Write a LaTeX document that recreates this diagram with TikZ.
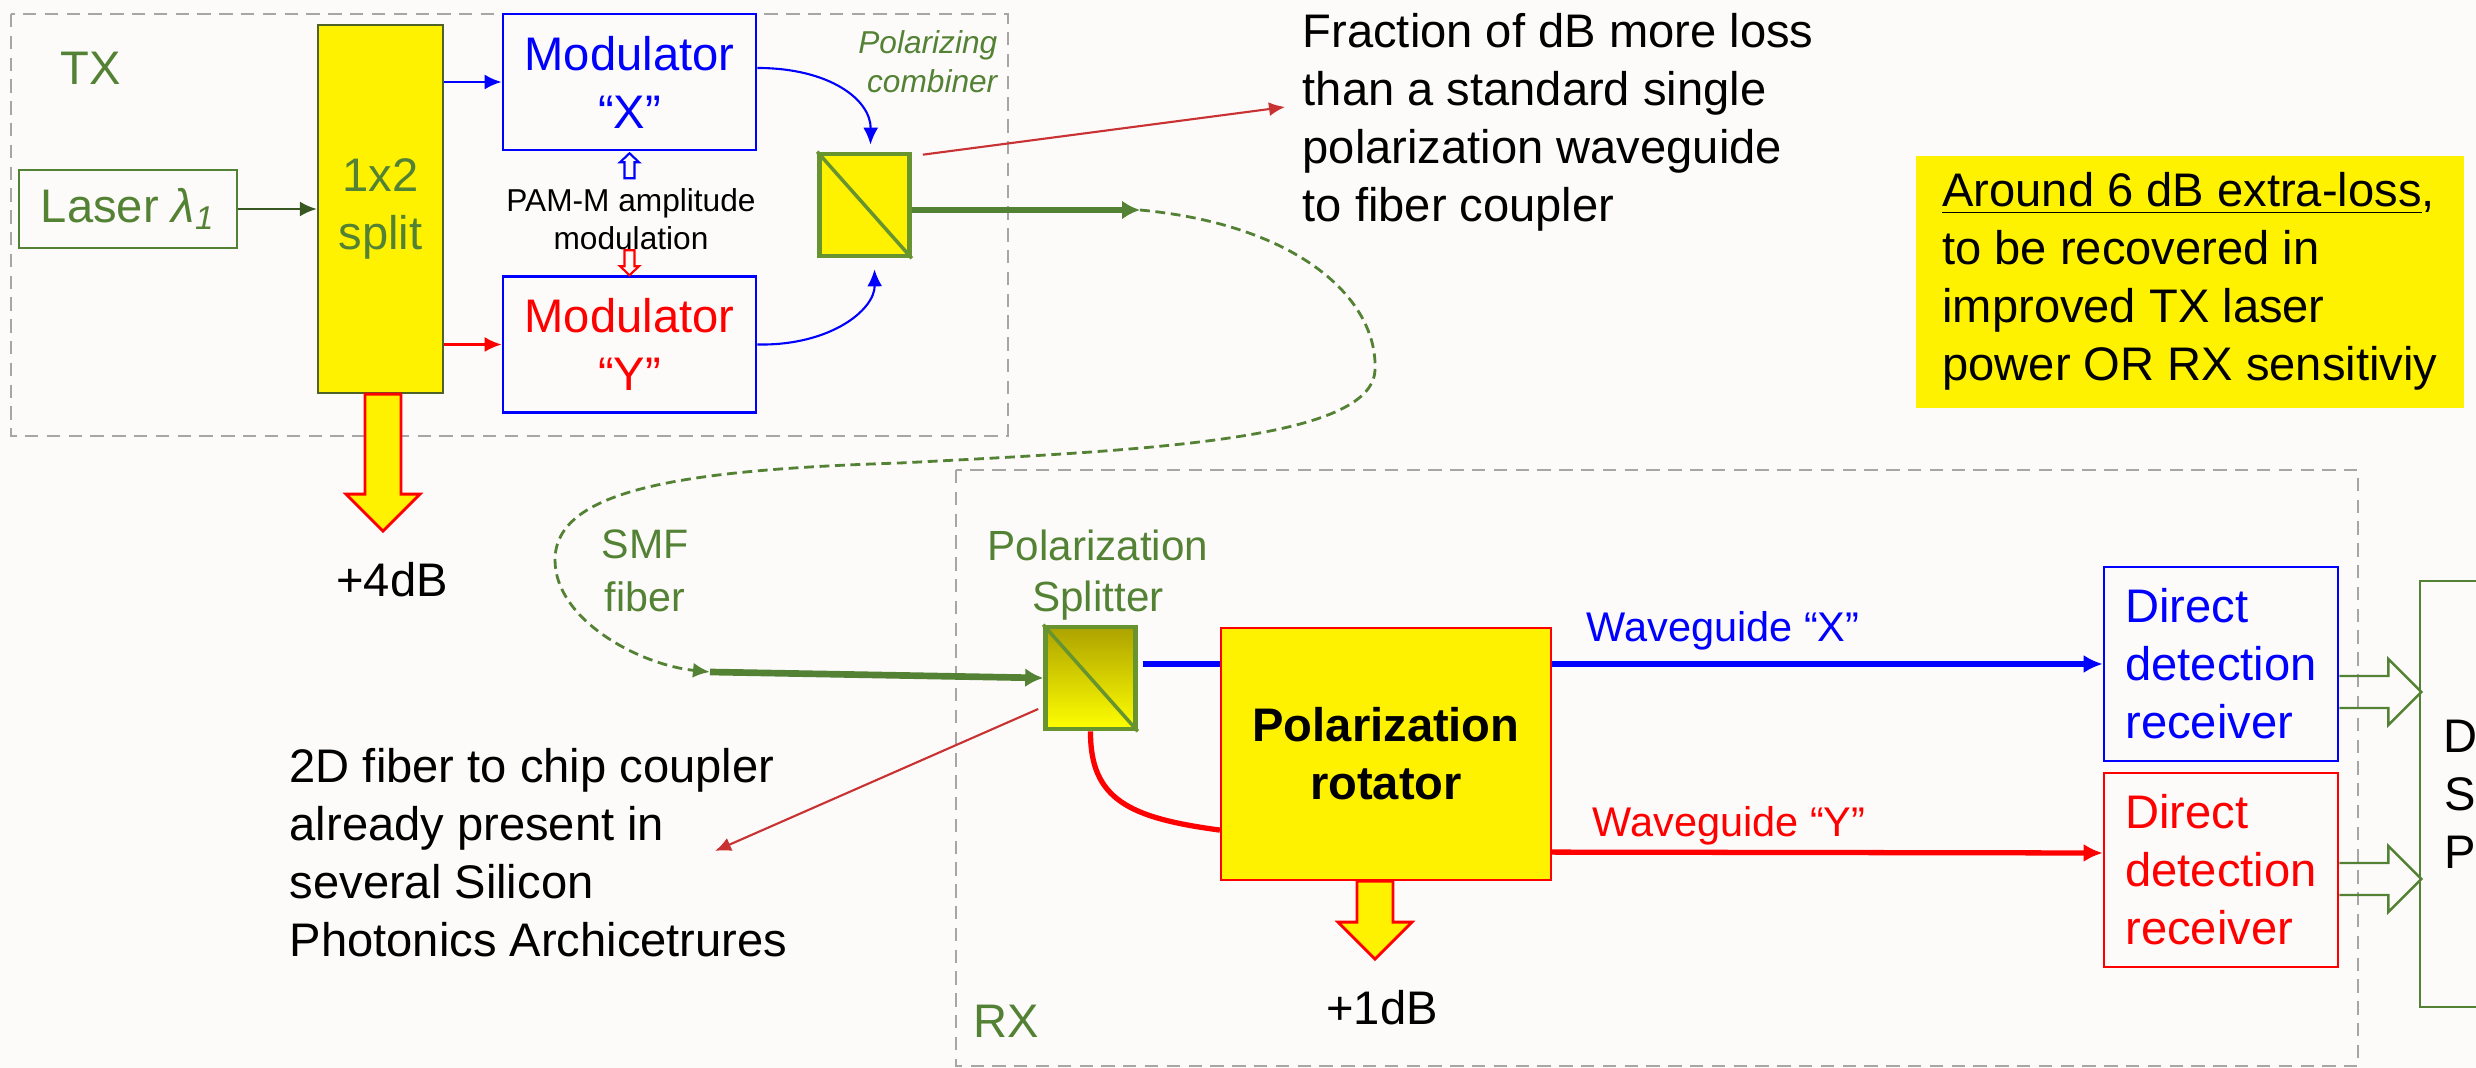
\documentclass[tikz,border=0pt]{standalone}
\usepackage{fontspec}
\setmainfont{Liberation Sans}
\usepackage{tikz}
\usetikzlibrary{arrows.meta}
\definecolor{bgpink}{RGB}{253,251,250}
\definecolor{leafgreen}{RGB}{84,130,53}
\definecolor{darkleaf}{RGB}{56,87,35}
\definecolor{pbsgreen}{RGB}{104,148,48}
\definecolor{splitedge}{RGB}{79,98,40}
\definecolor{notered}{RGB}{200,50,50}
\definecolor{boxgray}{RGB}{166,166,166}
\definecolor{olivetop}{RGB}{172,162,0}

% yellow loss arrow, red outline: #1 start of stem (left side), #2 stem length
\newcommand{\lossarrow}[2]{%
  \draw[red,line width=0.8pt,fill=yellow] (#1) -- ++(0,#2) -- ++(-19,0) -- ++(37,37) -- ++(37,-37) -- ++(-19,0) -- ++(0,-#2) -- cycle;}
% small hollow arrow next to the PAM label: #3 = 1 down, -1 up
\newcommand{\pamarrow}[3]{%
  \draw[#2,line width=0.6pt,fill=bgpink] (#1) -- ++(0,{#3*16}) -- ++(-4.5,0) -- ++(9.5,{#3*9}) -- ++(9.5,{-(#3)*9}) -- ++(-4.5,0) -- ++(0,{-(#3)*16}) -- cycle;}
% hollow arrow from a receiver into the DSP
\newcommand{\dsparrow}[1]{%
  \draw[leafgreen,line width=0.7pt] (#1) -- ++(49,0) -- ++(0,-17) -- ++(33,33) -- ++(-33,33) -- ++(0,-17) -- ++(-49,0);}

\begin{document}
\begin{tikzpicture}[x=0.01cm,y=-0.01cm,>={Latex[length=0.17cm,width=0.15cm]},
  font=\fontsize{13.4}{16.5}\selectfont,
  every node/.style={inner sep=0pt},
  grpbox/.style={draw=boxgray,line width=0.6pt,dash pattern=on 3.8pt off 2.4pt},
  grplbl/.style={text=leafgreen},
  modbox/.style={draw=blue,line width=0.7pt,minimum width=2.53cm,minimum height=1.36cm,align=center},
  splitbox/.style={draw=splitedge,line width=0.6pt,fill=yellow,text=leafgreen,minimum width=1.25cm,minimum height=3.68cm,align=center},
  pbsbox/.style={draw=pbsgreen,line width=1.3pt,minimum width=0.9cm,minimum height=1.02cm},
  rotbox/.style={draw=red,line width=0.6pt,fill=yellow,minimum width=3.3cm,minimum height=2.52cm,align=center,font=\fontsize{13.4}{16.5}\selectfont\bfseries},
  ddrbox/.style={line width=0.7pt,minimum width=2.34cm,minimum height=1.94cm,align=left},
  fibre/.style={leafgreen,line width=1.9pt,-{Latex[length=0.18cm,width=0.19cm]}},
  wguide/.style={line width=1.5pt,-{Latex[length=0.19cm,width=0.18cm]}},
  thinarr/.style={line width=0.75pt,->},
  notearr/.style={notered,line width=0.6pt,-{Latex[length=0.16cm,width=0.14cm]}}]
\fill[bgpink] (0,0) rectangle (2476,1068);
\useasboundingbox (0,0) rectangle (2476,1068);

% TX side
\draw[grpbox] (11,14) rectangle (1008,436);
\node[grplbl] (txlbl) at (91,68) {TX};
\node[draw=leafgreen,line width=0.6pt,text=leafgreen,minimum width=2.18cm,minimum height=0.78cm] (laser) at (128,209) {Laser \textit{λ\textsubscript{1}}};
\node[splitbox] (split) at (380.5,209) {1x2\\split};
\node[modbox,text=blue] (modx) at (629.5,82) {Modulator\\“X”};
\node[modbox,text=red] (mody) at (629.5,344.5) {Modulator\\“Y”};
\node[font=\fontsize{9}{10.8}\selectfont,align=center] (pam) at (631,219) {PAM-M amplitude\\modulation};
\node[pbsbox,fill=yellow] (comb) at (864.5,205) {};
\draw[pbsgreen,line width=1pt] (comb.north west) -- (comb.south east);
\node[text=leafgreen,font=\fontsize{9}{11}\selectfont\itshape,align=right,anchor=east] (combl) at (998,62) {Polarizing\\combiner};

\draw[darkleaf,thinarr] (laser) -- (split);
\draw[blue,thinarr] (split.east |- modx) -- (modx);
\draw[red,thinarr] (split.east |- mody) -- (mody);
\pamarrow{[xshift=-0.05cm,yshift=-0.27cm]modx.south}{blue}{-1}
\pamarrow{[xshift=-0.05cm,yshift=0.25cm]mody.north}{red}{1}
\draw[blue,line width=0.6pt,->] ([yshift=0.14cm]modx.east) .. controls (830,68) and (871,100) .. ([xshift=0.06cm,yshift=0.07cm]comb.north);
\draw[blue,line width=0.6pt,->] (mody.east) .. controls (830,346) and (875,310) .. ([xshift=0.1cm,yshift=-0.11cm]comb.south);
\lossarrow{[xshift=-0.155cm]split.south}{100}
\node (loss4) at (392,580) {+4dB};

% fibre between the chips
\coordinate (fibA) at (1140,210);
\coordinate (fibB) at (710,672);
\draw[fibre] (comb.east |- fibA) -- (fibA);
\draw[leafgreen,line width=0.8pt,dash pattern=on 2.8pt off 1.6pt,->] (fibA) .. controls (1300,225) and (1378,300) .. (1375,370) .. controls (1372,440) and (1150,450) .. (900,463) .. controls (680,470) and (555,490) .. (555,560) .. controls (555,620) and (640,665) .. (fibB);
\node[text=leafgreen,font=\fontsize{11.7}{15}\selectfont,align=center] (smf) at (645,571) {SMF\\fiber};

% notes
\coordinate (fracpt) at (1285,107);
\draw[notearr] ([xshift=0.11cm,yshift=-0.03cm]comb.north east) -- (fracpt);
\node[anchor=north west,align=left] (frac) at (1302,13) {Fraction of dB more loss\\than a standard single\\polarization waveguide\\to fiber coupler};
\node[fill=yellow,anchor=north west,minimum width=5.48cm,minimum height=2.52cm,align=left] (extra) at (1915,155) {\underline{Around 6 dB extra-loss},\\to be recovered in\\improved TX laser\\power OR RX sensitiviy};

% RX side
\draw[grpbox] (956,470) rectangle (2358,1066);
\node[grplbl] (rxlbl) at (1006,1021) {RX};
\node[text=leafgreen,font=\fontsize{12}{14.5}\selectfont,align=center] (pbsl) at (1098,575) {Polarization\\Splitter};
\node[pbsbox,top color=olivetop,bottom color=yellow] (pbs) at (1090.5,678) {};
\draw[pbsgreen,line width=1pt] (pbs.north west) -- (pbs.south east);
\node[rotbox] (rot) at (1386,754) {Polarization\\rotator};
\node[ddrbox,draw=blue,text=blue] (ddrx) at (2221,664) {Direct\\detection\\receiver};
\node[ddrbox,draw=red,text=red] (ddry) at (2221,870) {Direct\\detection\\receiver};
\node[draw=leafgreen,line width=0.6pt,minimum width=0.8cm,minimum height=4.26cm,align=center] (dsp) at (2460,794) {D\\S\\P};

\draw[fibre] (fibB) -- (pbs.west);
\coordinate (notept) at (715,851);
\draw[notearr] ([xshift=-0.05cm,yshift=-0.31cm]pbs.west) -- (notept);
\node[anchor=north west,align=left] (note2d) at (289,748) {2D fiber to chip coupler\\already present in\\several Silicon\\Photonics Archicetrures};

\draw[blue,line width=1.5pt,shorten <=0.05cm] (pbs.east |- ddrx.west) -- (rot.west |- ddrx.west);
\draw[blue,wguide] (rot.east |- ddrx.west) -- (ddrx.west);
\draw[red,line width=1.5pt] (pbs.south) .. controls (1090,800) and (1130,818) .. ([yshift=0.51cm]rot.south west);
\draw[red,wguide] ([yshift=0.29cm]rot.south east) -- ([yshift=0.17cm]ddry.west);
\node[text=blue,font=\fontsize{11.8}{14}\selectfont] (wgxl) at (1723,631) {Waveguide “X”};
\node[text=red,font=\fontsize{11.8}{14}\selectfont] (wgyl) at (1729,826) {Waveguide “Y”};
\lossarrow{[xshift=-0.29cm]rot.south}{41}
\node (loss1) at (1382,1008) {+1dB};
\foreach \r/\s in {ddrx/-0.12cm,ddry/0.07cm}
  {\dsparrow{[yshift=\s]\r.east}}
\end{tikzpicture}
\end{document}
